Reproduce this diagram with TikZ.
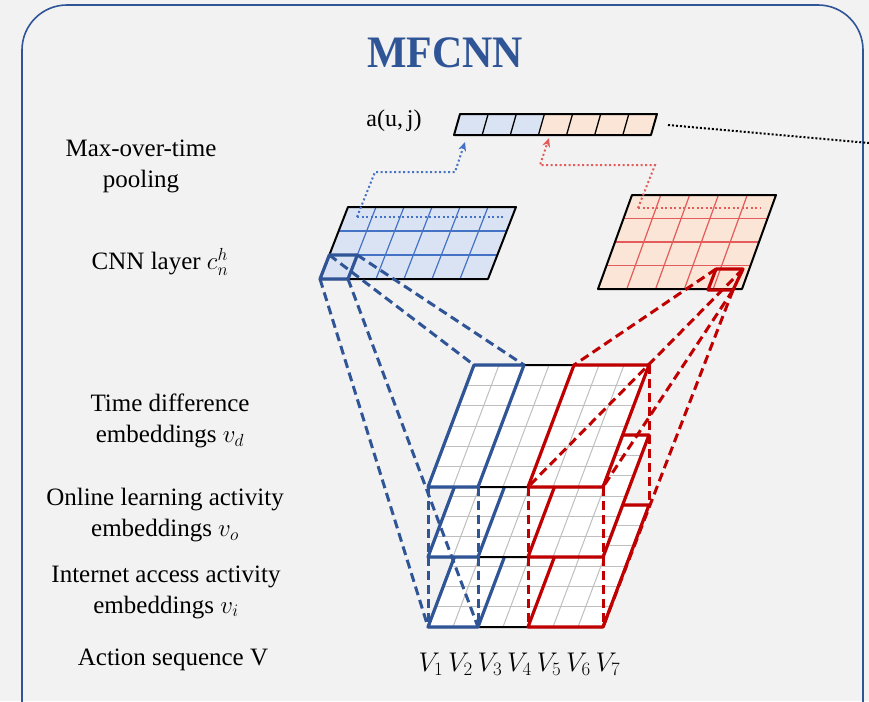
\RequirePackage{fix-cm}
\documentclass[tikz,border=0pt]{standalone}
\usepackage{fontspec}
\setmainfont{Liberation Serif}
\newfontfamily\titlefont[FakeStretch=0.93]{Liberation Serif}
\usetikzlibrary{arrows.meta}
\definecolor{bgc}{HTML}{F2F2F2}
\definecolor{dblue}{HTML}{2F5597}
\definecolor{mblue}{HTML}{4472C4}
\definecolor{lblue}{HTML}{DAE3F3}
\definecolor{dred}{HTML}{C00000}
\definecolor{lred}{HTML}{E35B5B}
\definecolor{lorange}{HTML}{FBE5D6}
\definecolor{gridg}{HTML}{BFBFBF}
\tikzset{
  sheetgrid/.style={gridg,line width=1pt},
  blackedge/.style={black,line width=2pt,line join=round},
  blueedge/.style={dblue,line width=3.2pt,line join=round},
  rededge/.style={dred,line width=3.2pt,line join=round},
  bluedash/.style={dblue,line width=3pt,dash pattern=on 9pt off 5pt},
  reddash/.style={dred,line width=3pt,dash pattern=on 9pt off 5pt},
  bluedot/.style={mblue,line width=2pt,dash pattern=on 2pt off 2.5pt},
  reddot/.style={lred,line width=2pt,dash pattern=on 2pt off 2.5pt},
  blackdot/.style={black,line width=2pt,dash pattern=on 2pt off 2pt},
  lbl/.style={font=\fontsize{25}{31}\selectfont,align=center,inner sep=0pt},
}
\newcommand\embsheet[3]{%
  \begin{scope}[shift={(#1,#2)}]
  \begin{scope}[x={(25pt,0pt)},y={(7.6667pt,20.3333pt)}]
    \fill[white] (0,0)--(7,0)--(7,6)--(0,6)--cycle;
    \foreach \i in {1,...,6} \draw[sheetgrid] (\i,0)--(\i,6);
    \foreach \j in {1,...,5} \draw[sheetgrid] (0,\j)--(7,\j);
    \draw[blackedge] (0,0)--(7,0)--(7,6)--(0,6)--cycle;
    \draw[blueedge] (0,0)--(2,0)--(2,6)--(0,6)--cycle;
    \draw[rededge] (4,0)--(7,0)--(7,6)--(4,6)--cycle;
    \coordinate (#3-0-0) at (0,0);
    \coordinate (#3-2-0) at (2,0);
    \coordinate (#3-4-0) at (4,0);
    \coordinate (#3-7-0) at (7,0);
    \coordinate (#3-0-6) at (0,6);
    \coordinate (#3-2-6) at (2,6);
    \coordinate (#3-4-6) at (4,6);
    \coordinate (#3-7-6) at (7,6);
  \end{scope}
  \end{scope}}
\begin{document}
\begin{tikzpicture}[x=1pt,y=-1pt]
\clip (0,0) rectangle (869,701);
\fill[bgc] (0,0) rectangle (869,701);
% frame
\draw[dblue,line width=1.6pt,rounded corners=45pt] (22,760)--(22,5)--(863,5)--(863,760);
% title
\node[font=\titlefont\fontsize{45}{50}\selectfont\bfseries,text=dblue] (title) at (445,53) {MFCNN};
% left labels
\node[lbl] (lpool) at (141,166) {Max-over-time\\pooling};
\node[lbl] (lcnn) at (160,262) {CNN layer $c_n^h$};
\node[lbl] (ltd) at (170,421) {Time difference\\embeddings $v_d$};
\node[lbl] (lol) at (165,515) {Online learning activity\\embeddings $v_o$};
\node[lbl] (lia) at (166,592) {Internet access activity\\embeddings $v_i$};
\node[lbl] (las) at (173,660) {Action sequence V};
% V labels
\foreach \k in {1,...,7}
  \node[font=\fontsize{27}{30}\selectfont,inner sep=0pt] (v\k) at ({431+29.5*(\k-1)},664) {$V_{\k}$};
% a(u,j) vector
\node[font=\fontsize{24}{28}\selectfont,inner sep=0pt] (auj) at (394,121) {a(u,\,j)};
\begin{scope}[shift={(454,135)}]
\begin{scope}[x={(28.14pt,0pt)},y={(6pt,21pt)}]
  \foreach \k in {0,1,2} \fill[lblue] (\k,0)--(\k+1,0)--(\k+1,1)--(\k,1)--cycle;
  \foreach \k in {3,...,6} \fill[lorange] (\k,0)--(\k+1,0)--(\k+1,1)--(\k,1)--cycle;
  \foreach \k in {1,...,6} \draw[black,line width=1.3pt] (\k,0)--(\k,1);
  \draw[blackedge] (0,0)--(7,0)--(7,1)--(0,1)--cycle;
\end{scope}
\end{scope}
\coordinate (vecend) at (668,125);
\coordinate (farend) at (869,143);
\draw[blackdot] (vecend)--(farend);
% blue CNN layer
\begin{scope}[shift={(320,279)}]
\begin{scope}[x={(28pt,0pt)},y={(9.3333pt,24pt)}]
  \fill[lblue] (0,0)--(6,0)--(6,3)--(0,3)--cycle;
  \foreach \i in {1,...,5} \draw[mblue,line width=1.2pt] (\i,0)--(\i,3);
  \foreach \j in {1,2} \draw[mblue,line width=1.2pt] (0,\j)--(6,\j);
  \draw[blackedge] (0,0)--(6,0)--(6,3)--(0,3)--cycle;
  \draw[blueedge] (0,0)--(1,0)--(1,1)--(0,1)--cycle;
  \coordinate (bc-bl) at (0,0);
  \coordinate (bc-br) at (1,0);
  \coordinate (bc-tr) at (1,1);
  \coordinate (bc-tl) at (0,1);
\end{scope}
\end{scope}
% red CNN layer
\begin{scope}[shift={(598,289)}]
\begin{scope}[x={(28.8pt,0pt)},y={(8.5pt,23.5pt)}]
  \fill[lorange] (0,0)--(5,0)--(5,4)--(0,4)--cycle;
  \foreach \i in {1,...,4} \draw[lred,line width=1.2pt] (\i,0)--(\i,4);
  \foreach \j in {1,2,3} \draw[lred,line width=1.2pt] (0,\j)--(5,\j);
  \draw[blackedge] (0,0)--(5,0)--(5,4)--(0,4)--cycle;
\end{scope}
\end{scope}
\coordinate (rc-bl) at (708,290);
\coordinate (rc-br) at (733,290);
\coordinate (rc-tr) at (743,269);
\coordinate (rc-tl) at (716,269);
\draw[rededge] (rc-bl)--(rc-br)--(rc-tr)--(rc-tl)--cycle;
% dotted pooling paths
\coordinate (bp0) at (357,217);
\coordinate (bp1) at (505,217);
\coordinate (bp2) at (375,172);
\coordinate (bp3) at (455,172);
\coordinate (bp4) at (465,142);
\draw[bluedot] (bp0)--(bp1);
\draw[bluedot,-{Stealth[length=9pt,width=8pt,fill=mblue]}] (bp0)--(bp2)--(bp3)--(bp4);
\coordinate (rp0) at (638,208);
\coordinate (rp1) at (760,208);
\coordinate (rp2) at (655,165);
\coordinate (rp3) at (540,165);
\coordinate (rp4) at (549,138);
\draw[reddot] (rp0)--(rp1);
\draw[reddot,-{Stealth[length=9pt,width=8pt,fill=lred]}] (rp0)--(rp2)--(rp3)--(rp4);
% embedding sheets
\embsheet{428}{627}{s0}
\embsheet{428}{557}{s1}
\embsheet{428}{487}{s2}
% blue receptive field lines
\draw[bluedash] (bc-bl)--(s0-0-0);
\draw[bluedash] (bc-br)--(s0-2-0);
\draw[bluedash] (bc-tl)--(s2-0-6);
\draw[bluedash] (bc-tr)--(s2-2-6);
\draw[bluedash] (s2-0-0)--(s0-0-0);
\draw[bluedash] (s2-2-0)--(s0-2-0);
% red receptive field lines
\draw[reddash] (rc-tl)--(s2-4-6);
\draw[reddash] (rc-tr)--(s2-4-0);
\draw[reddash] (rc-br)--(s2-7-0);
\draw[reddash] (rc-br)--(s0-7-0);
\draw[reddash] (s2-4-0)--(s0-4-0);
\draw[reddash] (s2-7-0)--(s0-7-0);
\draw[reddash] (s2-7-6)--(s0-7-6);
\end{tikzpicture}
\end{document}
